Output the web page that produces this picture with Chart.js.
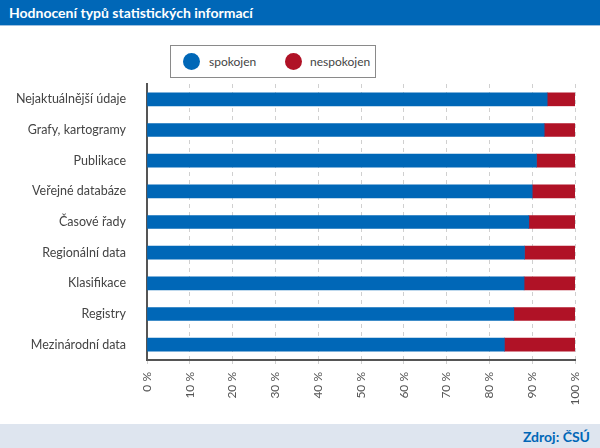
<!DOCTYPE html>
<html>
<head>
<meta charset="utf-8">
<script src="https://cdn.jsdelivr.net/npm/chart.js@4"></script>
<style>
  html, body { margin: 0; padding: 0; background: #fff; }
  #page { position: relative; width: 600px; height: 448px; overflow: hidden; font-family: Lato, sans-serif; }
  #title { position: absolute; left: 0; top: 0; width: 600px; height: 26px; background: #0067b7;
           border-bottom: 1px solid #9fc0e0; color: #fff; font-weight: bold; font-size: 14px;
           line-height: 26px; padding-left: 9px; box-sizing: border-box; }
  #footer { position: absolute; left: 0; top: 424px; width: 600px; height: 24px; background: #dee5ef;
            color: #0067b7; font-weight: bold; font-size: 14px; line-height: 26px; text-align: right;
            padding-right: 10px; box-sizing: border-box; }
  #legend { position: absolute; left: 170px; top: 45px; width: 206px; height: 33px; box-sizing: border-box;
            border: 1px solid #8a8a8a; background: #fff; font-size: 12px; color: #444; }
  .item { position: absolute; top: 0; height: 31px; line-height: 31px; }
  .dot { position: absolute; top: 7px; width: 17px; height: 17px; border-radius: 50%; }
  .item span { position: absolute; white-space: nowrap; }
  #wrap { position: absolute; left: 0; top: 0; width: 600px; height: 448px; }
</style>
</head>
<body>
<div id="page">
  <div id="wrap"><canvas id="chart"></canvas></div>
  <div id="title">Hodnocení typů statistických informací</div>
  <div id="legend"></div>
  <div id="footer">Zdroj: ČSÚ</div>
</div>
<script>
const categories = ["Nejaktuálnější údaje", "Grafy, kartogramy", "Publikace", "Veřejné databáze",
  "Časové řady", "Regionální data", "Klasifikace", "Registry", "Mezinárodní data"];
const seriesNames = ["spokojen", "nespokojen"];
const satisfied = [93.5, 92.8, 91.0, 90.0, 89.2, 88.2, 88.1, 85.7, 83.5];
const unsatisfied = [6.5, 7.2, 9.0, 10.0, 10.8, 11.8, 11.9, 14.3, 16.5];
const seriesColors = ["#0067b7", "#b01226"];

// html legend in the bordered box
const legend = document.getElementById("legend");
const legendX = [[12, 38], [114, 139]];
seriesNames.forEach((name, i) => {
  const item = document.createElement("div");
  item.className = "item";
  item.innerHTML = `<div class="dot" style="left:${legendX[i][0]}px;background:${seriesColors[i]}"></div>` +
                   `<span style="left:${legendX[i][1]}px">${name}</span>`;
  legend.appendChild(item);
});

const ctx = document.getElementById("chart").getContext("2d");
new Chart(ctx, {
  type: "bar",
  data: {
    labels: categories,
    datasets: [
      { label: seriesNames[0], data: satisfied, backgroundColor: seriesColors[0] },
      { label: seriesNames[1], data: unsatisfied, backgroundColor: seriesColors[1] }
    ]
  },
  options: {
    indexAxis: "y",
    responsive: true,
    maintainAspectRatio: false,
    animation: false,
    layout: { padding: { top: 84, right: 25, bottom: 0, left: 0 } },
    datasets: { bar: { barThickness: 13 } },
    plugins: { legend: { display: false }, tooltip: { enabled: false } },
    scales: {
      x: {
        stacked: true,
        min: 0,
        max: 100,
        ticks: {
          stepSize: 10,
          maxRotation: 90,
          minRotation: 90,
          padding: 8,
          color: "#555",
          font: { family: "Lato", size: 12 },
          callback: v => v + " %"
        },
        grid: { color: "#d0d0d0", tickLength: 4, tickColor: "#d0d0d0" },
        border: { color: "#555", width: 2, dash: [4, 4] },
        afterFit: s => { s.height = 88; }
      },
      y: {
        stacked: true,
        ticks: { color: "#444", padding: 13, font: { family: "Lato", size: 12.5 } },
        grid: { display: false },
        border: { color: "#555", width: 2 },
        afterFit: s => { s.width = 147; }
      }
    }
  }
});
</script>
</body>
</html>
